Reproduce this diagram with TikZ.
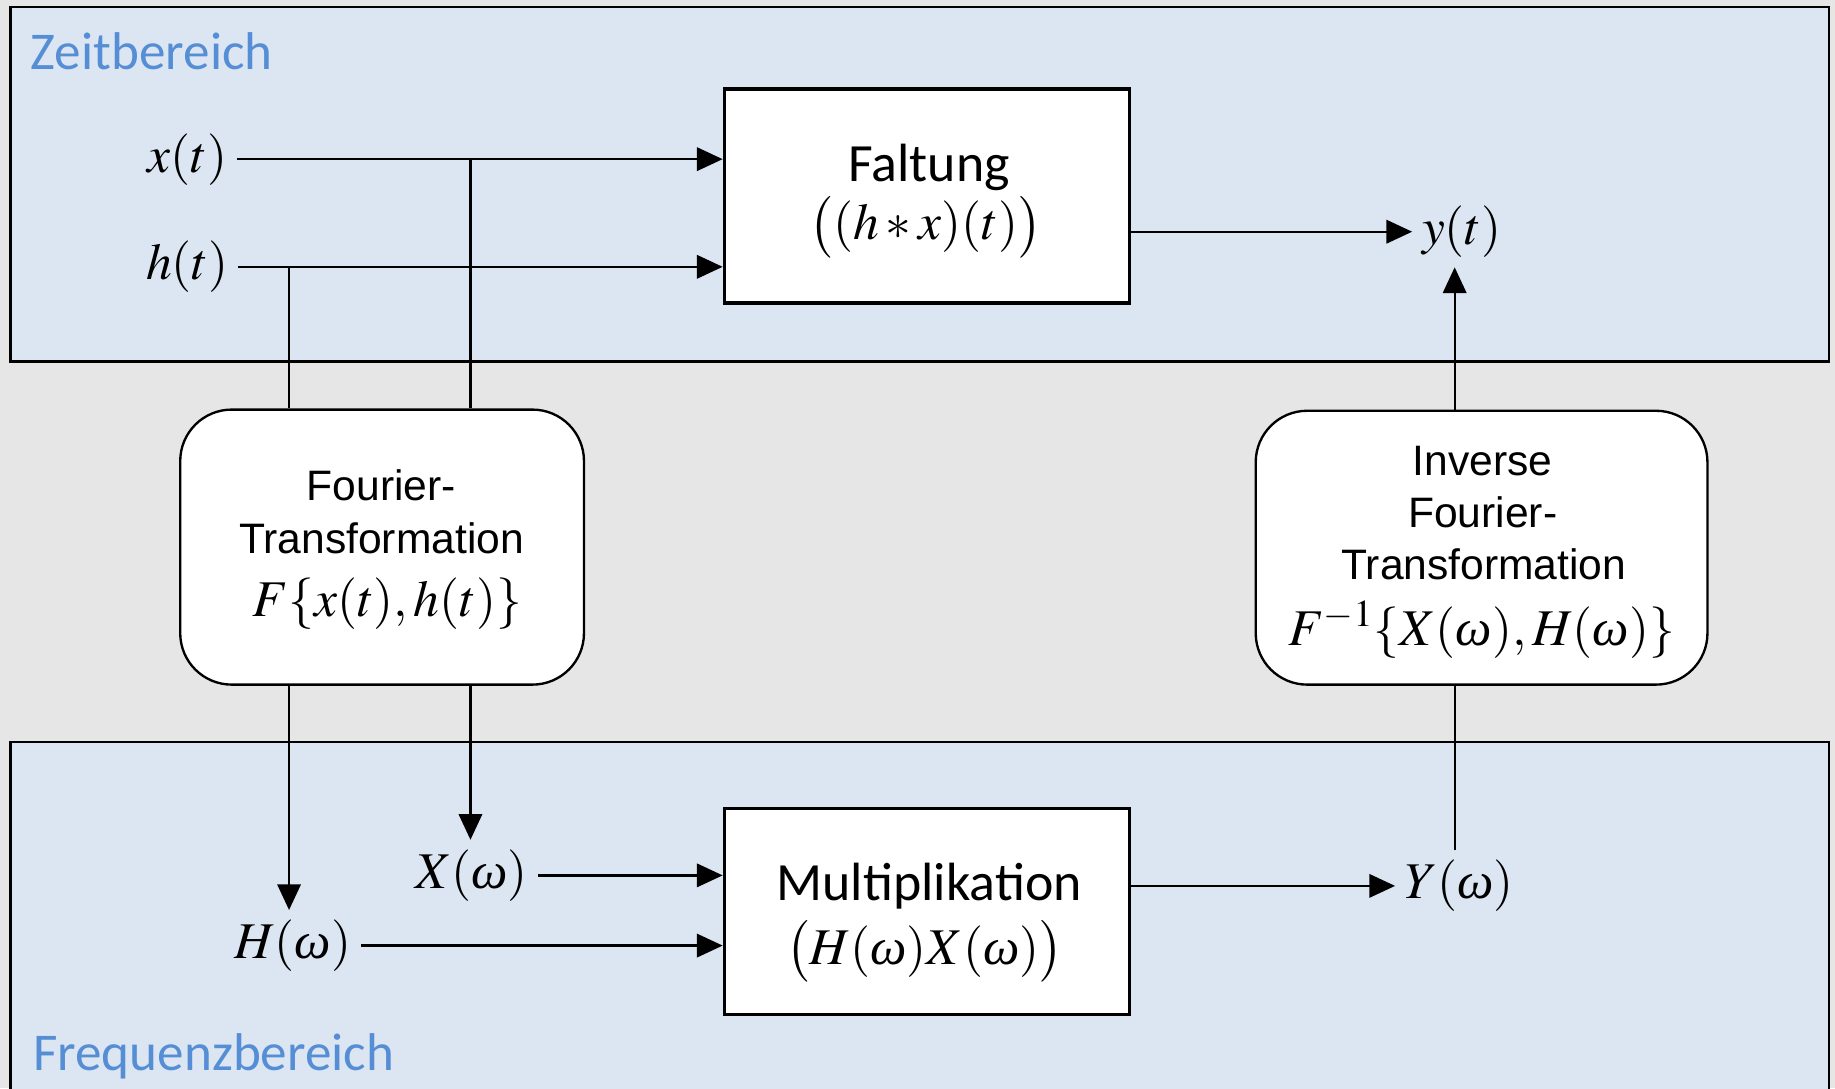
\documentclass[tikz,border=0pt]{standalone}
\usepackage{mathptmx}
\usepackage[no-math]{fontspec}
\setmainfont{Liberation Serif}
\newfontfamily\calfont{Carlito}
\newfontfamily\arialfont{Liberation Sans}
\usetikzlibrary{arrows.meta}
\definecolor{panelfill}{HTML}{DCE6F2}
\definecolor{pagegrey}{HTML}{E6E6E6}
\definecolor{areablue}{HTML}{558ED5}
% italic omega taken from the serif text font
\newcommand{\om}{\mbox{\itshape ω\/}}
\tikzset{
  panel/.style={fill=panelfill, draw=black, line width=1pt},
  areatitle/.style={font=\calfont\fontsize{22.7}{26}\selectfont, text=areablue, anchor=west, inner sep=0pt},
  opbox/.style={draw, fill=white, line width=1.5pt, minimum width=173pt, inner sep=0pt},
  trbox/.style={draw, fill=white, line width=1pt, rounded corners=22pt, inner sep=0pt},
  optext/.style={font=\calfont\fontsize{23}{27}\selectfont, inner sep=0pt},
  trtext/.style={font=\arialfont\fontsize{18.2}{22}\selectfont, inner sep=0pt},
  formula/.style={font=\fontsize{22}{26}\selectfont, inner sep=0pt},
  sig/.style={font=\fontsize{22}{26}\selectfont, inner sep=0pt},
  wire/.style={line width=1pt},
  arr/.style={wire, -{Triangle[length=11pt,width=10pt]}}
}
\begin{document}
\begin{tikzpicture}[x=0.5pt,y=-0.5pt]
  % canvas and the two domain panels
  \fill[pagegrey] (0,0) rectangle (1568,930);
  \useasboundingbox (0,0) rectangle (1568,930);
  \clip (0,0) rectangle (1568,930);
  \draw[panel] (9,6) rectangle (1563,309);
  \draw[panel] (9,634) rectangle (1563,960);
  \node[areatitle] (zeit) at (26,44) {Zeitbereich};
  \node[areatitle] (freq) at (28,903) {Frequenzbereich};

  % operation blocks
  \node[opbox, minimum height=91.5pt] (falt) at (792,167.5) {};
  \node[optext] (falttitle) at (794,143) {Faltung};
  \node[formula] (faltform) at (791,194) {$\bigl((h*x)(t)\bigr)$};

  \node[opbox, minimum height=88pt] (mult) at (792,779) {};
  \node[optext] (multtitle) at (794,757) {Multiplikation};
  \node[formula] (multform) at (790,813) {$\bigl(H(\om)X(\om)\bigr)$};

  % transformation blocks
  \node[trbox, minimum width=172.5pt, minimum height=117.5pt] (four) at (326.5,467.5) {};
  \node[trtext] (fourA) at (326,415) {Fourier-};
  \node[trtext] (fourB) at (326,460) {Transformation};
  \node[formula] (fourform) at (331,516) {$F\{x(t),h(t)\}$};

  \node[trbox, minimum width=193pt, minimum height=117pt] (inv) at (1266,468) {};
  \node[trtext] (invA) at (1267,394) {Inverse};
  \node[trtext] (invB) at (1267,438) {Fourier-};
  \node[trtext] (invC) at (1268,482) {Transformation};
  \node[formula] (invform) at (1266,538) {$F^{-1}\{X(\om),H(\om)\}$};

  % signals
  \node[sig] (xt) at (160,136) {$x(t)$};
  \node[sig] (ht) at (160,228) {$h(t)$};
  \node[sig] (yt) at (1249,198) {$y(t)$};
  \node[sig] (Xw) at (403,748) {$X(\om)$};
  \node[sig] (Hw) at (250,808) {$H(\om)$};
  \node[sig] (Yw) at (1247,757) {$Y(\om)$};

  % vertical tracks
  \coordinate (cX) at (402,0);
  \coordinate (cH) at (247,0);
  \coordinate (cY) at (1243,0);

  % time domain
  \draw[arr, shorten <=4pt] (xt.east) -- (xt.east -| falt.west);
  \draw[arr, shorten <=4pt] (ht.east) -- (ht.east -| falt.west);
  \draw[arr, shorten >=4pt] (yt.west -| falt.east) -- (yt.west);
  \draw[wire] (xt.east -| cX) -- (four.north -| cX);
  \draw[wire] (ht.east -| cH) -- (four.north -| cH);

  % frequency domain
  \draw[arr, shorten >=4pt] (four.south -| cX) -- (Xw.north -| cX);
  \draw[arr, shorten >=4pt] (four.south -| cH) -- (Hw.north -| cH);
  \draw[arr, shorten <=4pt] (Xw.east) -- (Xw.east -| mult.west);
  \draw[arr, shorten <=4pt] (Hw.east) -- (Hw.east -| mult.west);
  \draw[arr, shorten >=4pt] (Yw.west -| mult.east) -- (Yw.west);

  % back transformation
  \draw[wire, shorten <=4pt] (Yw.north -| cY) -- (inv.south -| cY);
  \draw[arr, shorten >=4pt] (inv.north -| cY) -- (yt.south -| cY);
\end{tikzpicture}
\end{document}
